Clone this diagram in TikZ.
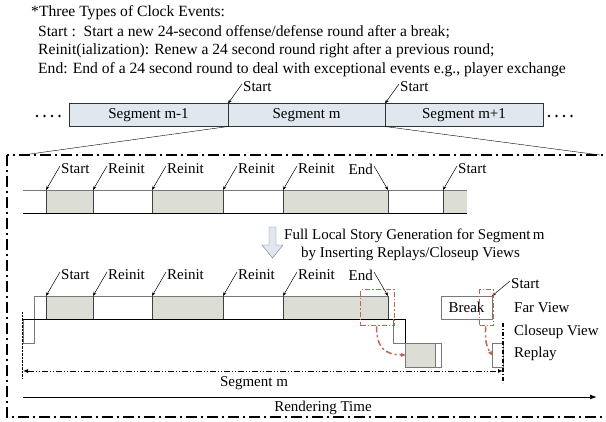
\documentclass[tikz,border=0pt]{standalone}
\usepackage{fontspec}
\setmainfont{Liberation Serif}
\usetikzlibrary{positioning,arrows.meta}
\definecolor{roundfill}{RGB}{220,222,213}
\definecolor{segfill}{RGB}{224,231,238}
\definecolor{markred}{RGB}{196,98,84}
\definecolor{linegray}{RGB}{120,120,120}
\tikzset{
  lbl/.style={font=\fontsize{15}{18}\selectfont,inner sep=1pt},
  deftext/.style={font=\fontsize{15.6}{18}\selectfont,inner sep=1pt,anchor=west},
  evt/.style={-{Stealth[length=4pt,width=3pt]},line width=0.5pt},
  segbox/.style={draw=black!80,fill=segfill,minimum height=23pt,inner sep=0pt,outer sep=0pt,font=\fontsize{15}{18}\selectfont},
  frame/.style={line width=2pt,dash pattern=on 11pt off 4pt on 2pt off 4pt},
  redbox/.style={draw=markred,line width=1.3pt,dash pattern=on 5pt off 2pt on 1.5pt off 2pt,inner sep=0pt},
  redarr/.style={markred,line width=1.5pt,dash pattern=on 6pt off 3pt on 2pt off 3pt,-{Stealth[length=6pt,width=5pt,round]}},
  spanarr/.style={{Latex[length=5pt,width=4pt]}-{Latex[length=5pt,width=4pt]},line width=0.9pt,dash pattern=on 6pt off 2pt on 1pt off 2pt on 1pt off 2pt}
}
\begin{document}
\begin{tikzpicture}[x=1pt,y=-1pt]
\useasboundingbox (0,0) rectangle (606,421);

% clock events
\node[deftext] (hdr) at (30,13) {*Three Types of Clock Events:};
\node[deftext] (defS) at (37,32) {Start :\ \ Start a new 24-second offense/defense round after a break;};
\node[deftext] (defR) at (37,51) {Reinit(ialization): Renew a 24 second round right after a previous round;};
\node[deftext] (defE) at (37,70) {End: End of a 24 second round to deal with exceptional events e.g., player exchange};

% segments
\node[segbox,minimum width=159pt,anchor=west] (segA) at (69,115) {Segment m-1};
\node[segbox,minimum width=157pt,right=0pt of segA] (segB) {Segment m};
\node[segbox,minimum width=158pt,right=0pt of segB] (segC) {Segment m+1};
\foreach \x in {37,44.5,52,59.5,549,556.5,564,571.5}
  \fill (\x,116) circle (1.3pt);
\node[lbl,anchor=west] (stA) at (242,87) {Start};
\node[lbl,anchor=west] (stB) at (399,87) {Start};
\draw[evt] ([yshift=3pt]stA.west) -- (segA.north east);
\draw[evt] ([yshift=3pt]stB.west) -- (segB.north east);
\coordinate (zl) at (23,155);
\coordinate (zr) at (600,155);
\draw (segA.south east) -- (zl);
\draw (segB.south east) -- (zr);
\draw[frame] (7,155) rectangle (607,417);

% clock timeline
\foreach \a/\b in {46/93,152/223,283/388,443/467}
  \fill[roundfill] (\a,190) rectangle (\b,213);
\draw[linegray] (23,190) -- (467,190);
\draw (23,213) -- (467,213);
\foreach \x in {46,93,152,223,283,388,443}
  \draw[black!75] (\x,190) -- (\x,213);
\foreach \x/\t [count=\i] in {46/Start,93/Reinit,152/Reinit,223/Reinit,283/Reinit,443/Start} {
  \coordinate (p\i) at (\x,190);
  \node[lbl,anchor=west] (l\i) at (\x+14,169) {\t};
  \draw[evt] ([yshift=3pt]l\i.west) -- (p\i);
}
\coordinate (pe) at (388,190);
\node[lbl,anchor=east] (le) at (374,169) {End};
\draw[evt] ([yshift=3pt]le.east) -- (pe);

% generation step
\draw[linegray,fill=segfill] (269,227) -- (276,227) -- (276,245) -- (283,245)
  -- (272.5,258) -- (262,245) -- (269,245) -- cycle;
\node[lbl,anchor=west] (gen1) at (283,236) {Full Local Story Generation for Segment\,m};
\node[lbl,anchor=west] (gen2) at (300,254) {by Inserting Replays/Closeup Views};

% rendered story
\foreach \a/\b in {46/93,152/223,283/388}
  \fill[roundfill] (\a,296) rectangle (\b,319);
\draw[linegray] (23,319) -- (23,343) -- (34,343) -- (34,296) -- (388,296);
\draw (23,319) -- (405,319) -- (405,343);
\foreach \x in {46,93,152,223,283,388}
  \draw[black!75] (\x,296) -- (\x,319);
\draw[linegray] (393,319) -- (393,343) -- (405,343);
\node[draw=linegray,fill=roundfill,minimum width=30pt,minimum height=24pt,inner sep=0pt,outer sep=0pt,anchor=north west] (rp1) at (405,343) {};
\draw[linegray] (rp1.north east) rectangle (441,367);
\node[draw=linegray,lbl,minimum width=51pt,minimum height=23pt,inner sep=0pt,outer sep=0pt,anchor=north west] (brk) at (441,296) {Break};
\node[draw=linegray,minimum width=11pt,minimum height=24pt,inner sep=0pt,outer sep=0pt,anchor=north west] (rp2) at (492,343) {};
\foreach \x/\t [count=\i from 7] in {46/Start,93/Reinit,152/Reinit,223/Reinit,283/Reinit} {
  \coordinate (p\i) at (\x,296);
  \node[lbl,anchor=west] (l\i) at (\x+14,275) {\t};
  \draw[evt] ([yshift=3pt]l\i.west) -- (p\i);
}
\coordinate (pf) at (388,296);
\node[lbl,anchor=east] (lf) at (374,275) {End};
\draw[evt] ([yshift=3pt]lf.east) -- (pf);
\node[lbl,anchor=west] (lg) at (510,284) {Start};
\draw[evt] ([yshift=3pt]lg.west) -- (brk.north east);
\node[lbl,anchor=west] (far) at (513,308) {Far View};
\node[lbl,anchor=west] (close) at (513,332) {Closeup View};
\node[lbl,anchor=west] (rep) at (513,354) {Replay};

% inserted shots
\node[redbox,minimum width=34pt,minimum height=36pt,anchor=north west] (endbox) at (360,289) {};
\node[redbox,minimum width=14pt,minimum height=36pt,anchor=north west] (stbox) at (479,289) {};
\draw[redarr] ([xshift=-1pt]endbox.south) .. controls (376,348) and (386,355) .. (rp1.west);
\draw[redarr] ([xshift=-1pt]stbox.south) .. controls (485,340) and (486,346) .. (rp2.west);

% segment span and time axis
\draw[densely dotted] (22,312) -- (22,378);
\draw[line width=1.2pt,dash pattern=on 4pt off 2pt on 1pt off 2pt] (503,323) -- (503,383);
\coordinate (sl) at (23,371);
\coordinate (sr) at (503,371);
\draw[spanarr] (sl) -- (sr);
\node[lbl] (segm) at (254,383) {Segment m};
\coordinate (r0) at (23,397);
\coordinate (r1) at (597,397);
\draw[-{Latex[length=7pt,width=5pt]},line width=1pt] (r0) -- (r1);
\node[lbl] (rt) at (323,408) {Rendering Time};
\end{tikzpicture}
\end{document}
